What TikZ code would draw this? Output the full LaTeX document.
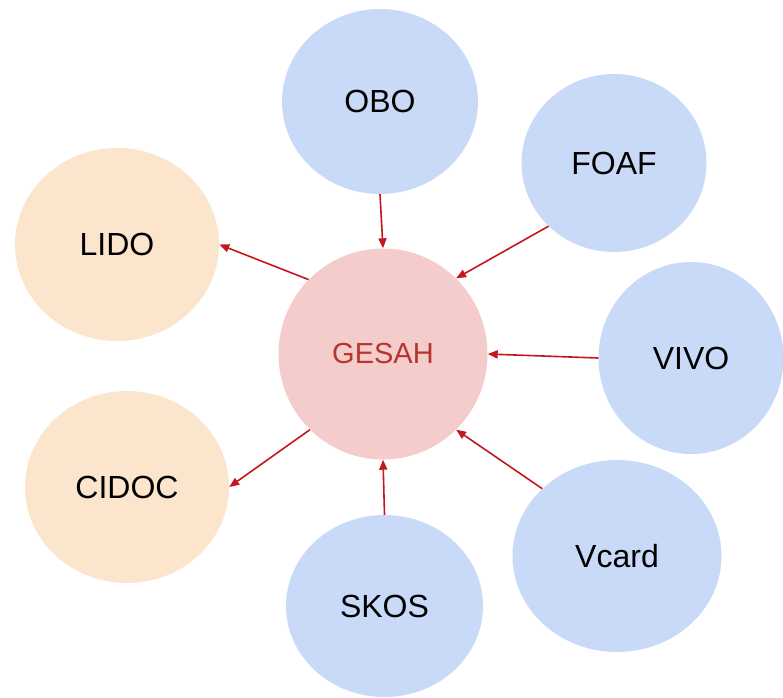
\documentclass[tikz,border=0pt]{standalone}
\usepackage{fontspec}
\setmainfont{Liberation Sans}
\usepackage{xcolor}
\usetikzlibrary{shapes.geometric, arrows.meta, positioning, calc}
\definecolor{vocabblue}{HTML}{C9DAF8}
\definecolor{mapbeige}{HTML}{FCE5CD}
\definecolor{corepink}{HTML}{F4CCCC}
\definecolor{corered}{HTML}{B7352C}
\definecolor{linkred}{HTML}{C4161C}
\tikzset{
	bubble/.style={ellipse, inner sep=0pt, font=\fontsize{32}{36}\selectfont},
	vocab/.style={bubble, fill=vocabblue},
	mapped/.style={bubble, fill=mapbeige},
	core/.style={bubble, fill=corepink, text=corered, font=\fontsize{29}{33}\selectfont},
	link/.style={draw=linkred, line width=1.6pt, -{Triangle[length=10pt, width=8pt]}}
}

\begin{document}
\begin{tikzpicture}[x=1pt, y=-1pt]
		
		\useasboundingbox (0,0) rectangle (783,697);
		
		% --- Central Node ---
		\node[core, minimum width=209, minimum height=211] (gesah) at (383,354) {GESAH};
		
		% --- Imported Vocabularies (Blue) ---
		\node[vocab, minimum width=196, minimum height=185] (obo) at (380,101.5) {OBO};
		\node[vocab, minimum width=185, minimum height=178] (foaf) at (614,163) {FOAF};
		\node[vocab, minimum width=185, minimum height=192] (vivo) at (691,358) {VIVO};
		\node[vocab, minimum width=209, minimum height=192] (vcard) at (617,556) {Vcard};
		\node[vocab, minimum width=197, minimum height=182] (skos) at (384.5,606) {SKOS};
		
		% --- Mapped Standards (Beige) ---
		\node[mapped, minimum width=204, minimum height=193] (lido) at (117,244.5) {LIDO};
		\node[mapped, minimum width=204, minimum height=192] (cidoc) at (127,487) {CIDOC};
		
		% --- Incoming Links ---
		\draw[link] (obo.270) -- (gesah.90);
		\draw[link] (foaf.224) -- (gesah.46);
		\draw[link] (vivo.180) -- (gesah.0);
		\draw[link] (vcard.138) -- (gesah.314);
		\draw[link] (skos.90) -- (gesah.270);
		
		% --- Outgoing Links ---
		\draw[link] (gesah.135) -- (lido.0);
		\draw[link] (gesah.226) -- (cidoc.0);
		
	\end{tikzpicture}
\end{document}
